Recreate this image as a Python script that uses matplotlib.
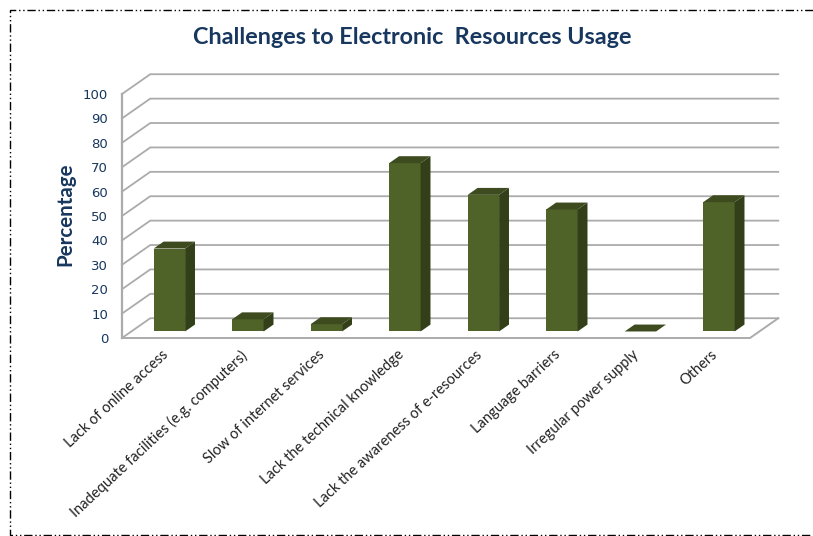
import matplotlib
matplotlib.use('Agg')
import matplotlib.pyplot as plt
from matplotlib.patches import Polygon
from matplotlib.lines import Line2D

categories = ['Lack of online access', 'Inadequate facilities (e.g. computers)',
              'Slow of internet services', 'Lack the technical knowledge',
              'Lack the awareness of e-resources', 'Language barriers',
              'Irregular power supply', 'Others']
values = [34, 5, 3, 69, 56, 50, 0, 53]
yticks = list(range(0, 101, 10))

W, H = 813, 536
NAVY = '#17375E'
GRID = '#ABABAB'
FRONT = '#4F6228'
SIDE = '#323F19'
TOP = '#3D4B1F'

fig = plt.figure(figsize=(W / 100, H / 100), dpi=100, facecolor='white')

# dash-dot border, open on the right like the screenshot
fig.add_artist(Line2D([W / W, 10 / W, 10 / W, W / W], [1 - 10 / H, 1 - 10 / H, 1 - 535 / H, 1 - 535 / H],
                      transform=fig.transFigure, color='black', linewidth=1.0,
                      linestyle=(0, (6, 2, 1, 2, 1, 2))))

# axes box is the front plane of the fake 3d chart
ax = fig.add_axes([122 / W, 1 - 338 / H, 628 / W, 244 / H])
ax.set_xlim(-0.5, len(categories) - 0.5)
ax.set_ylim(0, 100)
ax.patch.set_visible(False)
for s in ax.spines.values():
    s.set_visible(False)

# depth of the floor, in data units
dx = 0.36
dy = 8.1


def pt(x, y, d):
    return (x + d * dx, y + d * dy)


x0, x1 = -0.5, len(categories) - 0.5

# walls
for v in yticks:
    ax.plot(*zip(pt(x0, v, 0), pt(x0, v, 1), pt(x1, v, 1)), color=GRID, lw=1.3,
            clip_on=False, zorder=1, solid_joinstyle='miter')
ax.plot([x0, x0], [0, 100], color=GRID, lw=1.6, clip_on=False, zorder=1)
# floor
ax.plot(*zip(pt(x0, 0, 0), pt(x1, 0, 0), pt(x1, 0, 1)), color=GRID, lw=1.4,
        clip_on=False, zorder=1)

# bars
bar_w = 0.40
d_front = 0.33
d_back = 0.68
shift = -0.015
for i, v in enumerate(values):
    l = i + shift - bar_w / 2
    r = i + shift + bar_w / 2
    if v > 0:
        ax.bar(i + shift + d_front * dx, v, width=bar_w, bottom=d_front * dy, color=FRONT, zorder=3,
               clip_on=False)
        ax.add_patch(Polygon([pt(r, 0, d_front), pt(r, 0, d_back), pt(r, v, d_back), pt(r, v, d_front)],
                             facecolor=SIDE, zorder=3, clip_on=False))
    ax.add_patch(Polygon([pt(l, v, d_front), pt(r, v, d_front), pt(r, v, d_back), pt(l, v, d_back)],
                         facecolor=TOP, zorder=3, clip_on=False))

ax.set_yticks(yticks)
ax.set_yticklabels(yticks, fontsize=9.5, color=NAVY, family='DejaVu Sans')
ax.set_xticks(range(len(categories)))
ax.set_xticklabels(categories, rotation=43, ha='right', rotation_mode='anchor',
                   fontsize=10.5, color='#222222', family='Lato')
ax.tick_params(axis='y', length=0, pad=10)
ax.tick_params(axis='x', length=0, pad=7)

fig.text(65 / W, 1 - 214 / H, 'Percentage', rotation=90, ha='center', va='center',
         fontsize=14.8, color=NAVY, family='Lato', fontweight='bold')
fig.text(412 / W, 1 - 38 / H, 'Challenges to Electronic  Resources Usage', ha='center', va='center',
         fontsize=16.8, color=NAVY, family='Lato', fontweight='bold')

fig.savefig('out.png', dpi=100)
